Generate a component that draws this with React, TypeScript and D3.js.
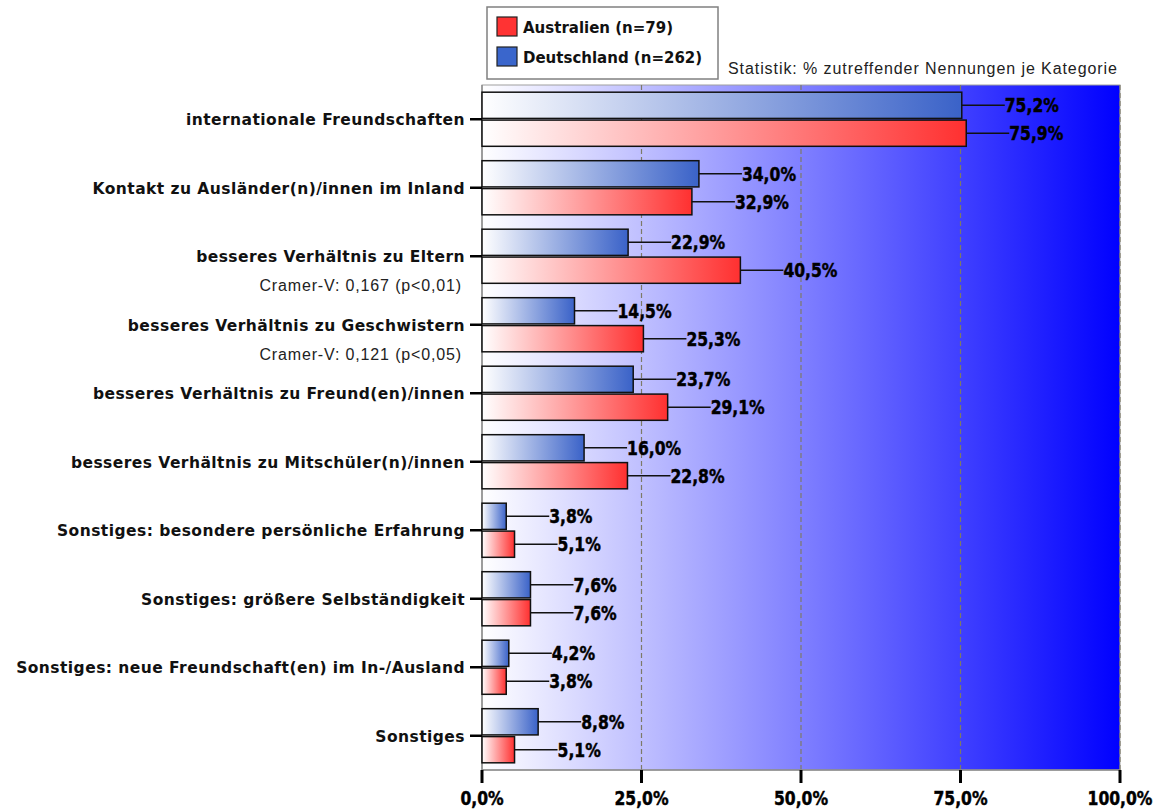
import React from 'react';
import * as d3 from 'd3';

// categories top to bottom
const categories = [
    'internationale Freundschaften',
    'Kontakt zu Ausländer(n)/innen im Inland',
    'besseres Verhältnis zu Eltern',
    'besseres Verhältnis zu Geschwistern',
    'besseres Verhältnis zu Freund(en)/innen',
    'besseres Verhältnis zu Mitschüler(n)/innen',
    'Sonstiges: besondere persönliche Erfahrung',
    'Sonstiges: größere Selbständigkeit',
    'Sonstiges: neue Freundschaft(en) im In-/Ausland',
    'Sonstiges',
];

const deutschland = [75.2, 34.0, 22.9, 14.5, 23.7, 16.0, 3.8, 7.6, 4.2, 8.8];
const australien = [75.9, 32.9, 40.5, 25.3, 29.1, 22.8, 5.1, 7.6, 3.8, 5.1];

const cramerNotes = ['', '', 'Cramer-V: 0,167 (p<0,01)', 'Cramer-V: 0,121 (p<0,05)', '', '', '', '', '', ''];

const seriesNames = ['Deutschland (n=262)', 'Australien (n=79)'];
const xTicks = [0, 25, 50, 75, 100];

const W = 1155;
const H = 810;
const plot = { left: 482, right: 1120, top: 85, bottom: 770 };

const pct = (v: number) => d3.format('.1f')(v).replace('.', ',') + '%';

// no narrow font installed, so squeeze DejaVu bold horizontally
const numFont = '"DejaVu Sans", sans-serif';
const sansBold = '"DejaVu Sans", Verdana, sans-serif';
const plain = '"Liberation Sans", Arial, sans-serif';
const squeeze = 0.78;

const NumText: React.FC<{ x: number; y: number; anchor?: string; children: string }> = ({ x, y, anchor, children }) => (
    <text transform={`translate(${x},${y}) scale(${squeeze},1)`} textAnchor={anchor ?? 'start'}
        fontFamily={numFont} fontWeight="bold" fontSize={20}
        stroke="#000" strokeWidth={0.5} fill="#000">{children}</text>
);

const App: React.FC = () => {
    const x = d3.scaleLinear().domain([0, 100]).range([plot.left, plot.right]);
    const y = d3.scaleBand<string>()
        .domain(categories)
        .range([plot.top, plot.bottom])
        .paddingInner(0.21)
        .paddingOuter(0.105);
    const sub = d3.scaleBand<string>()
        .domain(['de', 'au'])
        .range([0, y.bandwidth()])
        .paddingInner(0.06);

    const series = [
        { key: 'de', values: deutschland, fill: 'url(#gBlue)' },
        { key: 'au', values: australien, fill: 'url(#gRed)' },
    ];

    return (
        <svg width={W} height={H} style={{ position: 'absolute', left: 0, top: 0, background: '#fff' }}>
            <defs>
                <linearGradient id="gBg" x1="0" x2="1" y1="0" y2="0">
                    <stop offset="0" stopColor="#ffffff" />
                    <stop offset="1" stopColor="#0000ff" />
                </linearGradient>
                <linearGradient id="gBlue" x1="0" x2="1" y1="0" y2="0">
                    <stop offset="0" stopColor="#ffffff" />
                    <stop offset="1" stopColor="#3a62c8" />
                </linearGradient>
                <linearGradient id="gRed" x1="0" x2="1" y1="0" y2="0">
                    <stop offset="0" stopColor="#ffffff" />
                    <stop offset="1" stopColor="#ff3030" />
                </linearGradient>
            </defs>

            {/* plot background */}
            <rect x={plot.left} y={plot.top} width={plot.right - plot.left} height={plot.bottom - plot.top}
                fill="url(#gBg)" stroke="#a0a0a0" strokeWidth={1} />

            {/* grid */}
            {xTicks.slice(1).map(t => (
                <line key={t} x1={x(t)} x2={x(t)} y1={plot.top} y2={plot.bottom}
                    stroke="#7d7a68" strokeWidth={1.2} strokeDasharray="5,3" />
            ))}
            <line x1={plot.left} x2={plot.left} y1={plot.top} y2={plot.bottom} stroke="#8c8c8c" strokeWidth={1.5} />

            {/* bars */}
            {categories.map((c, i) => (
                <g key={c}>
                    {series.map(s => {
                        const v = s.values[i];
                        const y0 = (y(c) ?? 0) + (sub(s.key) ?? 0);
                        const bh = sub.bandwidth();
                        const xe = x(v);
                        return (
                            <g key={s.key}>
                                <rect x={x(0)} y={y0} width={xe - x(0)} height={bh}
                                    fill={s.fill} stroke="#111" strokeWidth={1.5} />
                                <line x1={xe} x2={xe + 43} y1={y0 + bh / 2} y2={y0 + bh / 2}
                                    stroke="#111" strokeWidth={1.5} />
                                <NumText x={xe + 43} y={y0 + bh / 2 + 7}>{pct(v)}</NumText>
                            </g>
                        );
                    })}
                </g>
            ))}

            {/* category axis */}
            {categories.map((c, i) => {
                const cy = (y(c) ?? 0) + y.bandwidth() / 2;
                return (
                    <g key={c}>
                        <line x1={plot.left - 12} x2={plot.left} y1={cy} y2={cy} stroke="#000" strokeWidth={2.5} />
                        <text x={plot.left - 17} y={cy + 6} textAnchor="end"
                            fontFamily={sansBold} fontWeight="bold" fontSize={15.5} letterSpacing={0.45}
                            fill="#111">{c}</text>
                        {cramerNotes[i] && (
                            <text x={plot.left - 20} y={cy + 35} textAnchor="end"
                                fontFamily={plain} fontSize={16} letterSpacing={0.85}
                                fill="#222">{cramerNotes[i]}</text>
                        )}
                    </g>
                );
            })}

            {/* value axis */}
            <line x1={plot.left} x2={plot.right} y1={plot.bottom} y2={plot.bottom} stroke="#8c8c8c" strokeWidth={1.5} />
            {xTicks.map(t => (
                <g key={t}>
                    <line x1={x(t)} x2={x(t)} y1={plot.bottom} y2={plot.bottom + 13} stroke="#000" strokeWidth={3} />
                    <NumText x={x(t)} y={805} anchor="middle">{pct(t)}</NumText>
                </g>
            ))}

            {/* legend */}
            <rect x={487} y={7} width={231} height={72} fill="#fff" stroke="#808080" strokeWidth={1.5} />
            {[
                { name: seriesNames[1], color: '#ff3333' },
                { name: seriesNames[0], color: '#3a66cc' },
            ].map((d, i) => (
                <g key={d.name} transform={`translate(497,${17 + i * 30})`}>
                    <rect width={20} height={19} fill={d.color} stroke="#222" strokeWidth={1.2} />
                    <text x={26} y={15.5} fontFamily={sansBold} fontWeight="bold" fontSize={15} fill="#111">{d.name}</text>
                </g>
            ))}

            <text x={728} y={74} fontFamily={plain} fontSize={16} letterSpacing={0.92} fill="#222">
                Statistik: % zutreffender Nennungen je Kategorie
            </text>
        </svg>
    );
};

export default App;
